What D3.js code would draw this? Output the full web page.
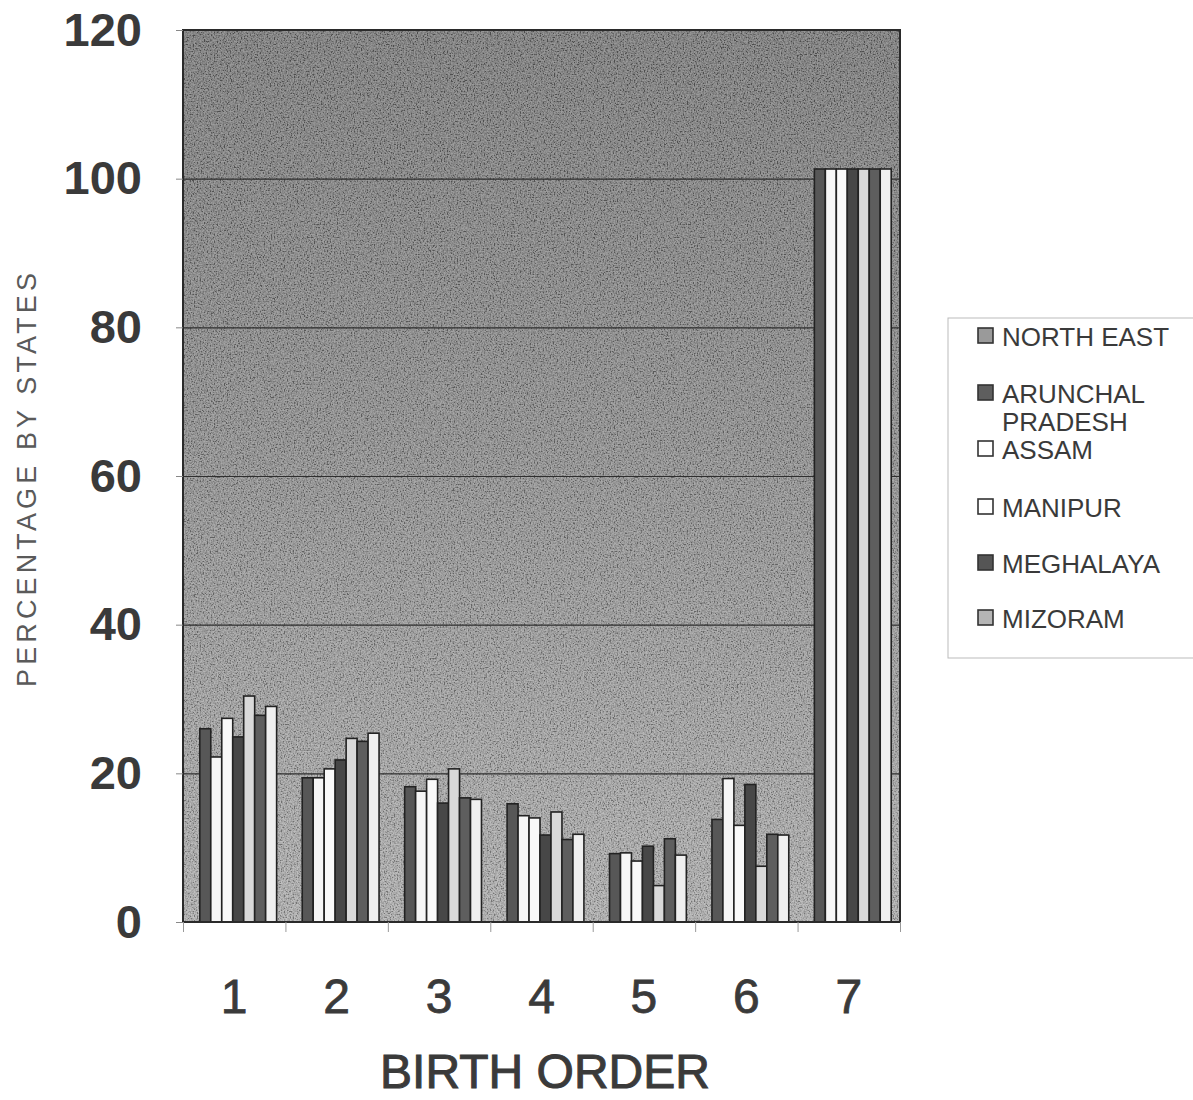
<!DOCTYPE html>
<html>
<head>
<meta charset="utf-8">
<script src="https://cdn.jsdelivr.net/npm/d3@7"></script>
<style>
  body { margin: 0; background: #fff; }
  text { font-family: Arial, "Liberation Sans", sans-serif; }
</style>
</head>
<body>
<div id="chart"></div>
<script>
// Birth order categories and y ticks
const birthOrder = ["1", "2", "3", "4", "5", "6", "7"];
const yTicks = [0, 20, 40, 60, 80, 100, 120];

// series (7 bars per group, legend only shows 6 names)
const seriesNames = ["NORTH EAST", "ARUNCHAL PRADESH", "ASSAM", "MANIPUR", "MEGHALAYA", "MIZORAM", "NAGALAND"];
const seriesColours = ["#575757", "#f6f6f6", "#f9f9f9", "#474747", "#d9d9d9", "#5e5e5e", "#efefef"];
const legendColours = ["#9a9a9a", "#5e5e5e", "#ffffff", "#ffffff", "#555555", "#b5b5b5"];

// percentages per birth order
const northEast  = [26.0, 19.4, 18.2, 15.9,  9.2, 13.8, 101.3];
const arunachal  = [22.2, 19.4, 17.6, 14.3,  9.3, 19.3, 101.3];
const assam      = [27.4, 20.6, 19.2, 14.0,  8.2, 13.0, 101.3];
const manipur    = [24.9, 21.8, 16.0, 11.7, 10.2, 18.5, 101.3];
const meghalaya  = [30.4, 24.7, 20.6, 14.8,  4.9,  7.5, 101.3];
const mizoram    = [27.8, 24.3, 16.7, 11.1, 11.2, 11.8, 101.3];
const nagaland   = [29.0, 25.4, 16.5, 11.8,  9.0, 11.7, 101.3];
const seriesValues = [northEast, arunachal, assam, manipur, meghalaya, mizoram, nagaland];

const W = 1193, H = 1100;
const margin = {top: 30, left: 183};
const width = 900 - margin.left, height = 922 - margin.top;

const svg = d3.select("#chart").append("svg")
    .attr("width", W).attr("height", H);

const defs = svg.append("defs");
const grad = defs.append("linearGradient").attr("id", "bg")
    .attr("x1", 0).attr("y1", 0).attr("x2", 0).attr("y2", 1);
grad.append("stop").attr("offset", "0%").attr("stop-color", "#6c6c6c");
grad.append("stop").attr("offset", "45%").attr("stop-color", "#828282");
grad.append("stop").attr("offset", "100%").attr("stop-color", "#a8a8a8");

// scan grain
const noise = defs.append("filter").attr("id", "grain")
    .attr("x", 0).attr("y", 0).attr("width", "100%").attr("height", "100%");
noise.append("feTurbulence").attr("type", "fractalNoise")
    .attr("baseFrequency", 0.7).attr("numOctaves", 2).attr("seed", 3);
noise.append("feColorMatrix").attr("type", "matrix")
    .attr("values", "2.4 0 0 0 -0.7  2.4 0 0 0 -0.7  2.4 0 0 0 -0.7  0 0 0 0 0.3");

const g = svg.append("g").attr("transform", `translate(${margin.left},${margin.top})`);

const x0 = d3.scaleBand().domain(birthOrder).range([0, width]).paddingInner(0.25).paddingOuter(0.125);
const x1 = d3.scaleBand().domain(d3.range(seriesNames.length)).range([0, x0.bandwidth()]);
const y = d3.scaleLinear().domain([0, 120]).range([height, 0]);

// plot background
g.append("rect").attr("width", width).attr("height", height).attr("fill", "url(#bg)");
g.append("rect").attr("width", width).attr("height", height).attr("fill", "#fff").attr("filter", "url(#grain)");

// gridlines
g.append("g")
    .call(d3.axisLeft(y).tickValues(yTicks.slice(1, -1)).tickSize(-width).tickFormat(""))
    .call(a => a.select(".domain").remove())
    .selectAll("line").attr("stroke", "#2e2e2e").attr("stroke-width", 1.2);

// bars
const groups = g.append("g").selectAll("g")
    .data(birthOrder)
    .enter().append("g")
    .attr("transform", d => `translate(${x0(d) + 4},0)`);

groups.selectAll("rect")
    .data((d, i) => seriesValues.map((s, k) => ({k: k, v: s[i]})))
    .enter().append("rect")
    .attr("x", d => x1(d.k))
    .attr("y", d => y(d.v))
    .attr("width", x1.bandwidth())
    .attr("height", d => height - y(d.v))
    .attr("fill", d => seriesColours[d.k])
    .attr("stroke", "#222")
    .attr("stroke-width", 1.6);

// plot border
g.append("rect").attr("width", width).attr("height", height)
    .attr("fill", "none").attr("stroke", "#2a2a2a").attr("stroke-width", 2);

// y axis labels
const yAxis = g.append("g")
    .call(d3.axisLeft(y).tickValues(yTicks).tickSize(7).tickPadding(34))
    .call(a => a.select(".domain").remove());
yAxis.selectAll("line").attr("stroke", "#888");
yAxis.selectAll("text")
    .attr("font-size", 47).attr("font-weight", "bold").attr("fill", "#3a3a3a")
    .attr("font-family", "Arial, 'Liberation Sans', sans-serif");

// x axis ticks
const xAxis = g.append("g").attr("transform", `translate(0,${height})`)
    .call(d3.axisBottom(d3.scaleLinear().domain([0, 7]).range([0, width])).ticks(7).tickSize(10).tickFormat(""))
    .call(a => a.select(".domain").remove());
xAxis.selectAll("line").attr("stroke", "#999");

g.append("g").selectAll("text")
    .data(birthOrder)
    .enter().append("text")
    .attr("x", d => x0(d) + x0.bandwidth() / 2)
    .attr("y", height + 91)
    .attr("text-anchor", "middle")
    .attr("font-size", 48).attr("fill", "#3a3a3a")
    .attr("stroke", "#3a3a3a").attr("stroke-width", 0.8)
    .text(d => d);

// axis titles
svg.append("text")
    .attr("x", 545).attr("y", 1088)
    .attr("text-anchor", "middle")
    .attr("font-size", 48).attr("fill", "#3a3a3a")
    .attr("stroke", "#3a3a3a").attr("stroke-width", 1)
    .text("BIRTH ORDER");

svg.append("text")
    .attr("transform", "translate(36,480) rotate(-90)")
    .attr("text-anchor", "middle")
    .attr("font-size", 27).attr("fill", "#5a5a5a")
    .attr("textLength", 414).attr("lengthAdjust", "spacing")
    .text("PERCENTAGE BY STATES");

// legend
const legend = svg.append("g");
legend.append("rect")
    .attr("x", 948).attr("y", 318).attr("width", 260).attr("height", 340)
    .attr("fill", "#fff").attr("stroke", "#bbb").attr("stroke-width", 1);

const legendRows = [
    {lines: ["NORTH EAST"], y: 336},
    {lines: ["ARUNCHAL", "PRADESH"], y: 393},
    {lines: ["ASSAM"], y: 449},
    {lines: ["MANIPUR"], y: 507},
    {lines: ["MEGHALAYA"], y: 563},
    {lines: ["MIZORAM"], y: 618}
];

legendRows.forEach((r, i) => {
    legend.append("rect")
        .attr("x", 978).attr("y", r.y - 8).attr("width", 15).attr("height", 15)
        .attr("fill", legendColours[i]).attr("stroke", "#333").attr("stroke-width", 1.6);
    r.lines.forEach((t, j) => {
        legend.append("text")
            .attr("x", 1002).attr("y", r.y + 10 + j * 28)
            .attr("font-size", 26).attr("fill", "#3a3a3a")
            .text(t);
    });
});
</script>
</body>
</html>
